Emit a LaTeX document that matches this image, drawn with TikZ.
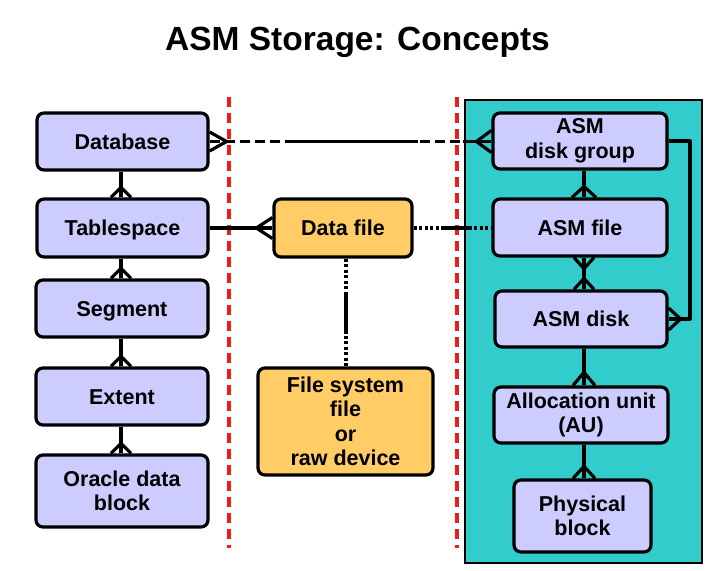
\documentclass[tikz,border=0pt]{standalone}
\usepackage{fontspec}
\setmainfont{Liberation Sans}
\usetikzlibrary{calc}
\definecolor{lav}{HTML}{CCCCFF}
\definecolor{gold}{HTML}{FFCC66}
\definecolor{tealbg}{HTML}{33CCCC}
\definecolor{redd}{HTML}{EE1C1C}
\tikzset{
  box/.style={draw=black, line width=3.2pt, rounded corners=7pt, fill=lav,
    inner sep=0pt, align=center, font=\fontsize{21.5}{24.5}\selectfont\bfseries},
  oneline/.style={text height=15.7pt, text depth=0pt},
  goldbox/.style={box, fill=gold},
  conn/.style={draw=black, line width=3.2pt, line join=round},
  dashedconn/.style={conn, dash pattern=on 10pt off 5pt},
  dotconn/.style={conn, dash pattern=on 3pt off 2.5pt},
  redline/.style={draw=redd, line width=3.2pt, dash pattern=on 10pt off 6pt},
}
\newcommand\crowft[3]{\draw[conn] ($#1+#3$) -- ($#1+#2$) -- ($#1-#3$);}
\begin{document}
\begin{tikzpicture}[x=1pt,y=-1pt]
\fill[white] (0,0) rectangle (724,571);
\useasboundingbox (0,0) rectangle (724,571);
\node[font=\fontsize{33.5}{36}\selectfont\bfseries, anchor=base, inner sep=0pt] (title) at (357.5,50) {ASM Storage: Concepts};
% background panel and separators
\draw[line width=2.6pt, fill=tealbg] (465,100) rectangle (702,563);
\draw[redline] (229,97) -- (229,548);
\draw[redline] (457,97) -- (457,548);
% column coordinates
\coordinate (lx) at (121,0);
\coordinate (rx) at (584,0);
\coordinate (mx) at (346,0);
\coordinate (bx) at (690,0);
% left column
\node[box, oneline, minimum width=171pt, minimum height=57pt] (db) at (122.5,141.5) {Database};
\node[box, oneline, minimum width=171pt, minimum height=58pt] (ts) at (122.5,228) {Tablespace};
\node[box, oneline, minimum width=172pt, minimum height=57pt] (seg) at (122,308.5) {Segment};
\node[box, oneline, minimum width=172pt, minimum height=57pt] (ext) at (122,396.5) {Extent};
\node[box, minimum width=172pt, minimum height=72pt] (odb) at (122,491) {Oracle data\\block};
% middle column
\node[goldbox, oneline, minimum width=138pt, minimum height=58pt] (df) at (343,228) {Data file};
\node[goldbox, minimum width=175pt, minimum height=107pt] (fs) at (345.5,421.5) {File system\\file\\or\\raw device};
% right column
\node[box, minimum width=174pt, minimum height=56pt] (dg) at (580,141) {ASM\\disk group};
\node[box, oneline, minimum width=174pt, minimum height=57pt] (af) at (580,227.5) {ASM file};
\node[box, oneline, minimum width=172pt, minimum height=56pt] (ad) at (581,319) {ASM disk};
\node[box, minimum width=174pt, minimum height=56pt] (au) at (581,415) {Allocation unit\\(AU)};
\node[box, minimum width=137pt, minimum height=72pt] (pb) at (582.5,516) {Physical\\block};
% left column connectors
\draw[conn] (db.south -| lx) -- (ts.north -| lx);
\crowft{(ts.north -| lx)}{(0,-10)}{(10,0)}
\draw[conn] (ts.south -| lx) -- (seg.north -| lx);
\crowft{(seg.north -| lx)}{(0,-10)}{(10,0)}
\draw[conn] (seg.south -| lx) -- (ext.north -| lx);
\crowft{(ext.north -| lx)}{(0,-10)}{(10,0)}
\draw[conn] (ext.south -| lx) -- (odb.north -| lx);
\crowft{(odb.north -| lx)}{(0,-10)}{(10,0)}
% database -- disk group
\draw[dashedconn] (db.east) -- (dg.west |- db.east);
\draw[conn] ($(db.east)!0.3!(dg.west |- db.east)$) -- ($(db.east)!0.74!(dg.west |- db.east)$);
\draw[conn] ($(dg.west |- db.east)+(-28,0)$) -- (dg.west |- db.east);
\crowft{(db.east)}{(17,0)}{(0,9.5)}
\crowft{(dg.west |- db.east)}{(-15,0)}{(0,11)}
% tablespace -- data file
\draw[conn] (ts.east) -- (df.west);
\crowft{(df.west)}{(-16,0)}{(0,10.5)}
% data file -- ASM file
\draw[dotconn] (df.east) -- (af.west |- df.east);
\draw[conn] ($(df.east)!0.37!(af.west |- df.east)$) -- ($(df.east)!0.74!(af.west |- df.east)$);
% data file -- file system
\draw[dotconn] (df.south -| mx) -- (fs.north -| mx);
\draw[conn] ($(df.south -| mx)!0.315!(fs.north -| mx)$) -- ($(df.south -| mx)!0.70!(fs.north -| mx)$);
% right column connectors
\draw[conn] (dg.south -| rx) -- (af.north -| rx);
\crowft{(af.north -| rx)}{(0,-11)}{(12,0)}
\draw[conn] (af.south -| rx) -- (ad.north -| rx);
\crowft{(af.south -| rx)}{(0,11)}{(10,0)}
\crowft{(ad.north -| rx)}{(0,-11)}{(10,0)}
\draw[conn] (ad.south -| rx) -- (au.north -| rx);
\crowft{(au.north -| rx)}{(0,-13)}{(11,0)}
\draw[conn] (au.south -| rx) -- (pb.north -| rx);
\crowft{(pb.north -| rx)}{(0,-12)}{(11,0)}
% disk group -- disk bracket
\draw[conn] (dg.east) -- (dg.east -| bx) -- (ad.east -| bx) -- (ad.east);
\crowft{(ad.east)}{(12,0)}{(0,11)}
\end{tikzpicture}
\end{document}
